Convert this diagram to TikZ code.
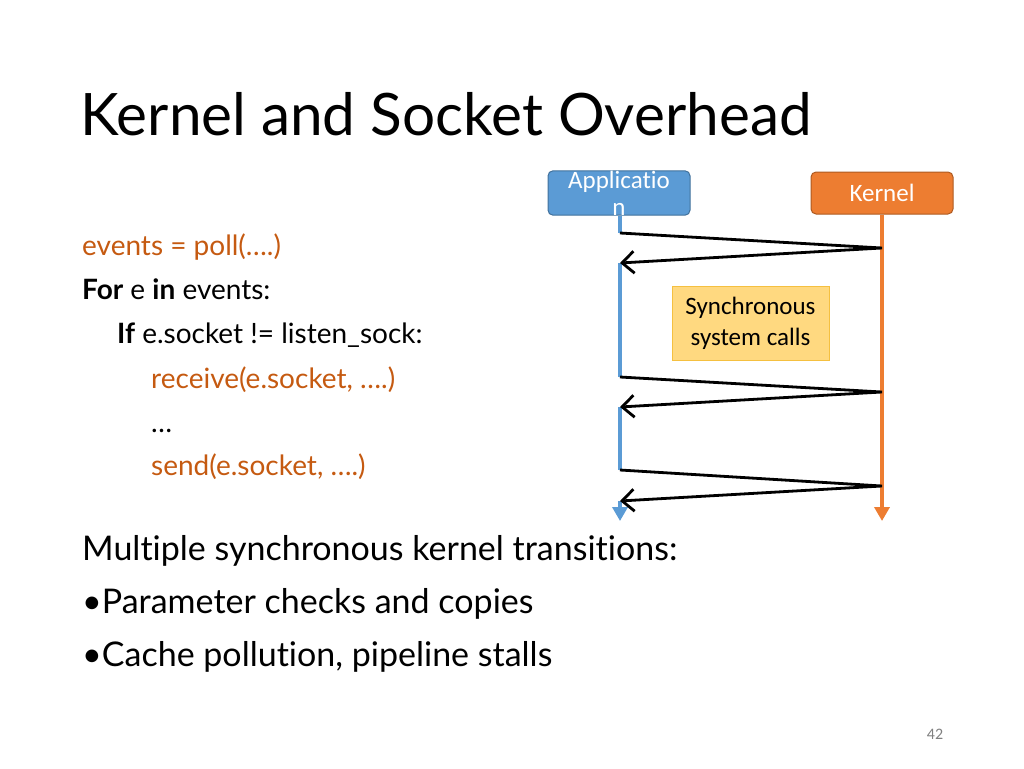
\documentclass[tikz,border=0pt]{standalone}
\usepackage{fontspec}
\setmainfont[Ligatures=NoCommon]{Lato}
\newfontfamily\calibri[Ligatures=NoCommon]{Carlito}
\usetikzlibrary{arrows.meta}
\definecolor{appblue}{RGB}{91,155,213}
\definecolor{appblueedge}{RGB}{65,113,156}
\definecolor{kernorange}{RGB}{237,125,49}
\definecolor{kernedge}{RGB}{174,90,33}
\definecolor{codeorange}{RGB}{197,90,17}
\definecolor{noteFill}{RGB}{255,217,128}
\definecolor{noteEdge}{RGB}{245,192,64}
\tikzset{
  txt/.style={anchor=base west, inner sep=0pt, font=\fontsize{28}{32}\selectfont},
  big/.style={anchor=base west, inner sep=0pt, font=\fontsize{34}{40}\selectfont},
  actor/.style={draw, line width=1pt, rounded corners=5pt, minimum width=142pt, minimum height=42pt, inner sep=0pt, text=white, align=center, font=\calibri\fontsize{25}{27}\selectfont},
  call/.style={black, line width=2.8pt, -{Straight Barb[length=12pt,width=22pt,line width=2.8pt]}},
  life/.style={line width=4.5pt},
}
\begin{document}
\begin{tikzpicture}[x=1pt,y=-1pt]
\useasboundingbox (0,0) rectangle (1024,768);
% title
\node[anchor=base west, inner sep=0pt, font=\fontsize{58.5}{66}\selectfont] (title) at (80,135) {Kernel and Socket Overhead};
% actors
\node[actor, fill=appblue, draw=appblueedge] (app) at (619,193) {Applicatio\\n};
\node[actor, fill=kernorange, draw=kernedge] (kern) at (882,193) {Kernel};
% lifeline coordinates
\coordinate (a0) at (620,214);
\coordinate (a1) at (620,233);
\coordinate (a2) at (620,263);
\coordinate (a3) at (620,377);
\coordinate (a4) at (620,407);
\coordinate (a5) at (620,470);
\coordinate (a6) at (620,501);
\coordinate (aend) at (620,521);
\coordinate (k1) at (882,248);
\coordinate (k2) at (882,392);
\coordinate (k3) at (882,486);
\coordinate (kend) at (882,521);
% app active segments
\draw[appblue, life] (app.south -| a0) -- (a1);
\draw[appblue, life] (a2) -- (a3);
\draw[appblue, life] (a4) -- (a5);
\draw[appblue, line width=4.5pt, -{Triangle[length=14pt,width=15pt]}] (a6) -- (aend);
% kernel line
\draw[kernorange, line width=4pt, -{Triangle[length=14pt,width=15pt]}] (kern.south) -- (kend);
% calls
\draw[call] (a1) -- (k1) -- (a2);
\draw[call] (a3) -- (k2) -- (a4);
\draw[call] (a5) -- (k3) -- (a6);
% note
\node[draw=noteEdge, fill=noteFill, line width=1pt, minimum width=157pt, minimum height=74pt, inner sep=0pt, align=center, font=\calibri\fontsize{25}{31}\selectfont] (note) at (750.5,323) {Synchronous\\system calls};
% code
\node[txt, text=codeorange] (l1) at (82,255) {events = poll(….)};
\node[txt] (l2) at (82,299) {\textbf{For} e \textbf{in} events:};
\node[txt] (l3) at (117,343) {\textbf{If} e.socket != listen\_sock:};
\node[txt, text=codeorange] (l4) at (151,388) {receive(e.socket, ….)};
\node[txt] (l5) at (151,432) {…};
\node[txt, text=codeorange] (l6) at (151,475) {send(e.socket, ….)};
% bottom
\node[big] (b1) at (82,560) {Multiple synchronous kernel transitions:};
\node[big] (b2) at (82,613) {•Parameter checks and copies};
\node[big] (b3) at (82,666) {•Cache pollution, pipeline stalls};
\node[anchor=base, inner sep=0pt, text=gray, font=\calibri\fontsize{16}{19}\selectfont] (pg) at (935,739) {42};
\end{tikzpicture}
\end{document}
